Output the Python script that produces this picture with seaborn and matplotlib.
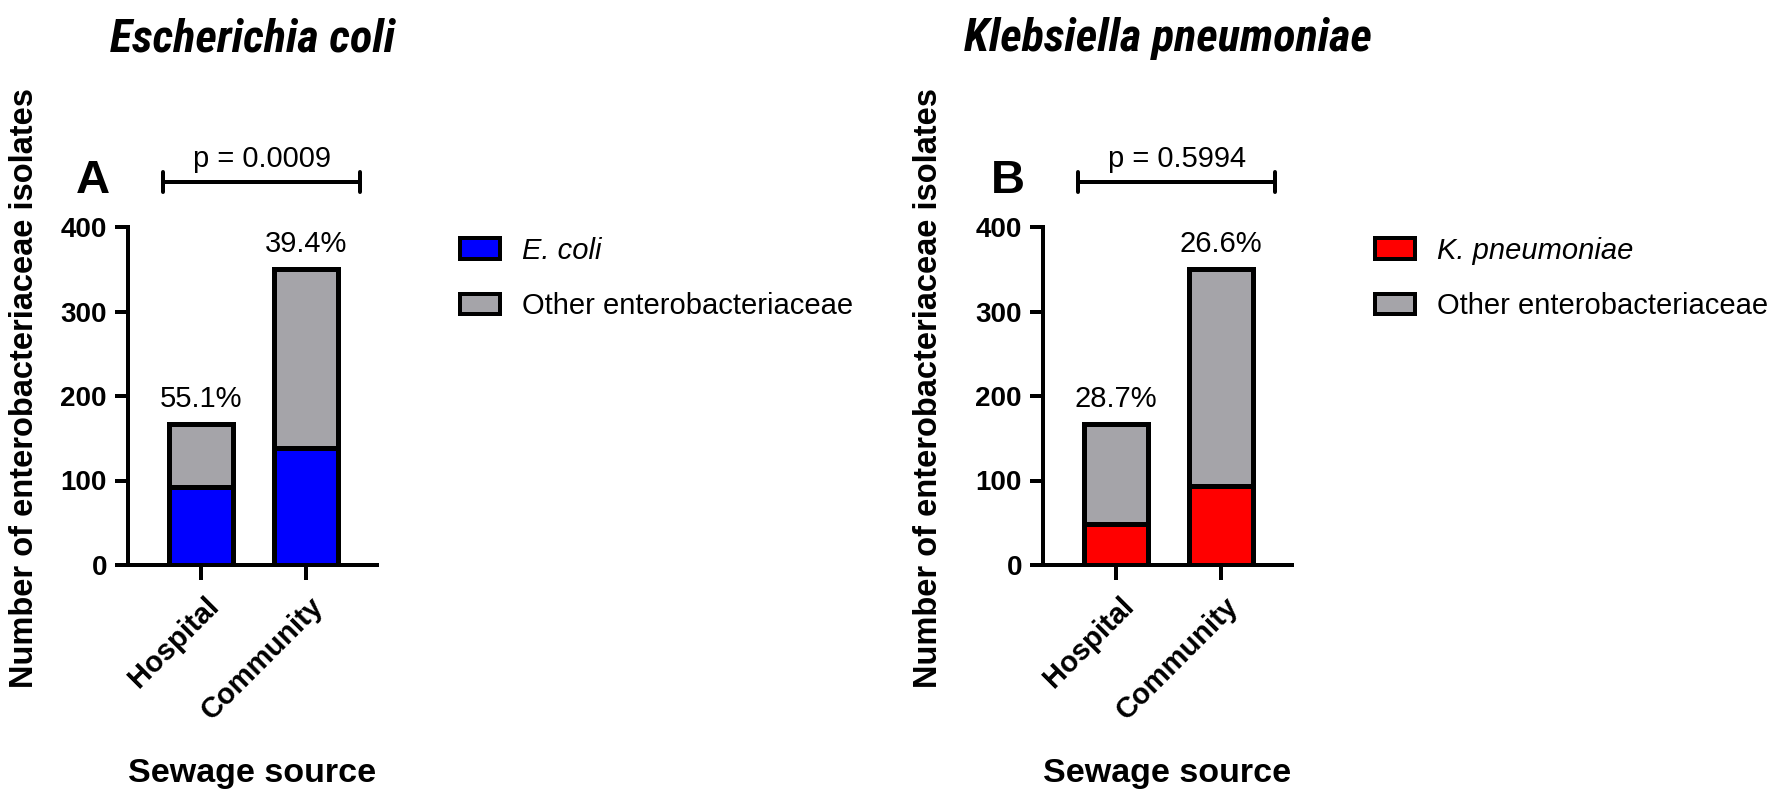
import matplotlib
matplotlib.use("Agg")
import pandas as pd
import matplotlib.pyplot as plt
import matplotlib.transforms as mtransforms
from matplotlib import font_manager
from matplotlib.font_manager import FontProperties
from matplotlib.patches import Patch
import seaborn as sns

# Isolate counts per sewage source
sources = ["Hospital", "Community"]
total_isolates = [167, 350]
ecoli_isolates = [92, 138]
kpneu_isolates = [48, 93]
p_values = ["0.0009", "0.5994"]

panel_letters = ["A", "B"]
panel_titles = ["Escherichia coli", "Klebsiella pneumoniae"]
species_labels = ["E. coli", "K. pneumoniae"]
species_colors = ["#0000FF", "#FF0000"]
OTHER_COLOR = "#A5A4A9"

DPI = 100
W, H = 1772, 791


def px(v):
    # pixels -> points
    return v * 72 / DPI


def condensed_title_font():
    # titles in the original use a narrow bold oblique face; take one if installed
    prefer = ["Liberation Sans Narrow", "Arial Narrow", "Roboto Condensed", "Noto Sans",
              "Open Sans", "DejaVu Sans", "Lato", "Inter"]
    found = [f for f in font_manager.fontManager.ttflist
             if f.stretch not in ("normal", "expanded", "semi-expanded", "extra-expanded",
                                  "ultra-expanded", 500)
             and f.style in ("italic", "oblique")
             and (f.weight in ("bold", "heavy", "black") or
                  (isinstance(f.weight, int) and f.weight >= 600))]
    found.sort(key=lambda f: prefer.index(f.name) if f.name in prefer else len(prefer))
    if found:
        return FontProperties(fname=found[0].fname)
    return FontProperties(family="Liberation Sans", weight="bold", style="italic")


sns.set_style("ticks")
plt.rcParams["font.family"] = ["Liberation Sans", "DejaVu Sans"]
for key in ["text.color", "axes.labelcolor", "xtick.color", "ytick.color", "axes.edgecolor"]:
    plt.rcParams[key] = "black"

fig = plt.figure(figsize=(W / DPI, H / DPI), dpi=DPI)
title_font = condensed_title_font()
title_texts = []


def draw_panel(left_px, counts, letter, title, species, color, pval, ylab_x):
    ax = fig.add_axes([left_px / W, (H - 565) / H, 249 / W, 338 / H])
    df = pd.DataFrame({"source": sources, "total": total_isolates, "species": counts})

    # grey full bar, coloured species part drawn over its lower section
    sns.barplot(data=df, x="source", y="total", color=OTHER_COLOR, saturation=1,
                edgecolor="black", linewidth=px(5), width=0.61, errorbar=None, ax=ax)
    sns.barplot(data=df, x="source", y="species", color=color, saturation=1,
                edgecolor="black", linewidth=px(5), width=0.61, errorbar=None, ax=ax)

    ax.set_xlim(-0.697, 1.674)
    ax.set_ylim(0, 400)
    ax.set_yticks([0, 100, 200, 300, 400])
    sns.despine(ax=ax)
    for side in ["left", "bottom"]:
        ax.spines[side].set_linewidth(px(4))

    ax.tick_params(axis="y", length=px(13), width=px(4), pad=px(8), labelsize=20)
    ax.tick_params(axis="x", length=px(15), width=px(4), pad=px(21.5), labelsize=21)
    plt.setp(ax.get_yticklabels(), fontweight="bold")
    shift = mtransforms.ScaledTranslation(13 / DPI, 0, fig.dpi_scale_trans)
    for lab in ax.get_xticklabels():
        lab.set_rotation(45)
        lab.set_ha("right")
        lab.set_va("center")
        lab.set_rotation_mode("anchor")
        lab.set_fontweight("bold")
        lab.set_transform(lab.get_transform() + shift)

    ax.set_xlabel("Sewage source", fontsize=24.5, fontweight="bold")
    ax.xaxis.set_label_coords(0.5, -0.571)
    ax.set_ylabel("Number of enterobacteriaceae isolates", fontsize=23.5, fontweight="bold")
    ax.yaxis.set_label_coords(ylab_x, 0.525)

    # percentage of the species on top of each bar
    for i, (tot, n) in enumerate(zip(total_isolates, counts)):
        ax.annotate(f"{100 * n / tot:.1f}%", xy=(i, tot), xytext=(0, px(17)),
                    textcoords="offset points", ha="center", va="baseline",
                    fontsize=21, annotation_clip=False)

    # significance bracket
    x0, x1, yb = -0.362, 1.514, 453.3
    ax.plot([x0, x1], [yb, yb], color="black", lw=px(4), clip_on=False)
    for xe in (x0, x1):
        ax.plot([xe, xe], [yb - 11.8, yb + 11.8], color="black", lw=px(4),
                clip_on=False, solid_capstyle="round")
    ax.annotate(f"p = {pval}", xy=((x0 + x1) / 2, yb), xytext=(0, px(15)),
                textcoords="offset points", ha="center", va="baseline",
                fontsize=21, annotation_clip=False)

    ax.text(-0.21, (565 - 193) / 338, letter, transform=ax.transAxes,
            fontsize=34, fontweight="bold", ha="left", va="baseline")
    t = ax.text(0.5, (565 - 51) / 338, title, transform=ax.transAxes,
                fontproperties=title_font, ha="center", va="baseline")
    title_texts.append(t)

    handles = [
        Patch(facecolor=color, edgecolor="black", linewidth=px(4), label=species),
        Patch(facecolor=OTHER_COLOR, edgecolor="black", linewidth=px(4),
              label="Other enterobacteriaceae"),
    ]
    leg = ax.legend(handles=handles, loc="upper left",
                    bbox_to_anchor=((460 - 128) / 249, (565 - 237) / 338),
                    frameon=False, fontsize=21, handlelength=1.38, handleheight=0.72,
                    handletextpad=0.75, labelspacing=0.93, borderpad=0, borderaxespad=0)
    leg.get_texts()[0].set_fontstyle("italic")
    return ax


draw_panel(128, ecoli_isolates, panel_letters[0], panel_titles[0],
           species_labels[0], species_colors[0], p_values[0], -0.353)
draw_panel(1043, kpneu_isolates, panel_letters[1], panel_titles[1],
           species_labels[1], species_colors[1], p_values[1], -0.398)

# size the titles so "Escherichia coli" is about 285 px wide, capped for wide faces
renderer = fig.canvas.get_renderer()
for t in title_texts:
    t.set_fontsize(36)
w36 = title_texts[0].get_window_extent(renderer).width
size = min(36, 36 * 285 / w36) if w36 > 0 else 32
size = max(size, 30)
for t in title_texts:
    t.set_fontsize(size)

fig.savefig("out.png", dpi=DPI)
